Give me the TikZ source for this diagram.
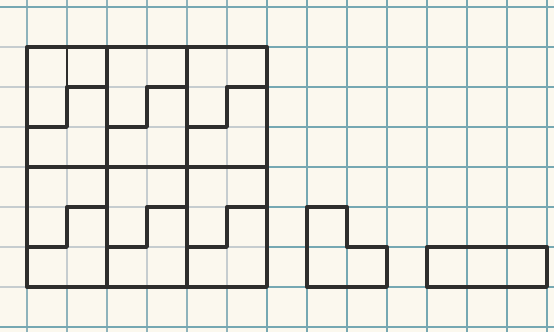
\documentclass[tikz,border=0pt]{standalone}
\usepackage{tikz}

\definecolor{paper}{RGB}{251,248,238}
\definecolor{gridteal}{RGB}{118,168,178}
\definecolor{gridpale}{RGB}{198,205,207}
\definecolor{ink}{RGB}{46,46,44}

\tikzset{
  tealgrid/.style={gridteal, line width=1.1pt},
  palegrid/.style={gridpale, line width=0.8pt},
  cut/.style={ink, line width=2.4pt, line cap=round, line join=round},
}

\begin{document}
\begin{tikzpicture}
\fill[paper] (-0.675,-1.125) rectangle (13.175,7.175);
\useasboundingbox (-0.675,-1.125) rectangle (13.175,7.175);

\foreach \y in {0,...,6} \draw[palegrid] (-0.675,\y) -- (6,\y);
\foreach \x in {0,...,5} \draw[palegrid] (\x,0) -- (\x,6);
\foreach \x in {0,...,5} {
  \draw[tealgrid, gridteal!70!gridpale] (\x,6) -- (\x,7.175);
  \draw[tealgrid, gridteal!70!gridpale] (\x,-1.125) -- (\x,0);
}
\foreach \y in {-1,7} \draw[tealgrid] (-0.675,\y) -- (13.175,\y);
\foreach \y in {0,...,6} \draw[tealgrid] (6,\y) -- (13.175,\y);
\foreach \x in {6,...,13} \draw[tealgrid] (\x,-1.125) -- (\x,7.175);

\draw[cut] (0,0) rectangle (6,6);
\draw[cut] (2,0) -- (2,6) (4,0) -- (4,6) (0,3) -- (6,3);
\foreach \bx in {0,2,4}
  \foreach \by in {0,3}
    \draw[cut] (\bx+2,\by+2) -- (\bx+1,\by+2) -- (\bx+1,\by+1) -- (\bx,\by+1);
\draw[ink, line width=0.9pt] (1,6) -- (1,5);

\draw[cut] (7,0) -- (7,2) -- (8,2) -- (8,1) -- (9,1) -- (9,0) -- cycle;
\draw[cut] (10,0) rectangle (13,1);
\end{tikzpicture}
\end{document}
